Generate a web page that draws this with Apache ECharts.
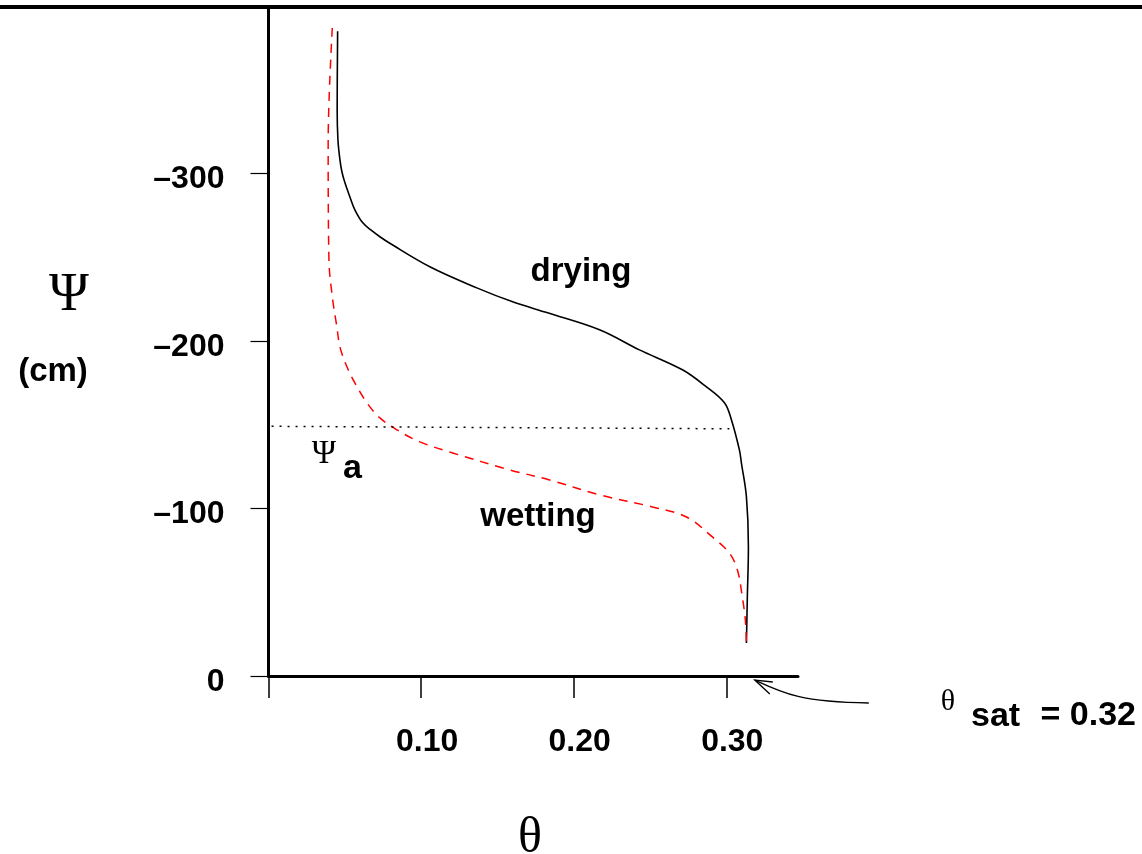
<!DOCTYPE html>
<html>
<head>
<meta charset="utf-8">
<script src="https://cdn.jsdelivr.net/npm/echarts@6/dist/echarts.min.js"></script>
<style>html,body{margin:0;padding:0;background:#fff;}#c{width:1142px;height:854px;}</style>
</head>
<body>
<div id="c"></div>
<script>
// ---- data (theta, psi in cm) ----
const dryingTheta = [0.0453,0.0450,0.0455,0.0468,0.0481,0.0501,0.0533,0.0566,0.0618,0.0677,0.0730,0.0795,0.1057,0.1365,0.1600,0.1829,0.2169,0.2431,0.2713,0.2870,0.2988,0.3034,0.3086,0.3099,0.3132,0.3145,0.3138,0.3132];
const dryingPsi   = [-384.7,-337.9,-320.0,-308.1,-300.9,-294.3,-286.0,-278.2,-270.4,-265.7,-262.1,-258.2,-244.2,-231.6,-223.3,-216.7,-206.6,-194.6,-182.7,-172.5,-163.0,-152.8,-134.9,-127.2,-106.9,-77.0,-47.2,-19.7];
const wettingTheta = [0.0418,0.0391,0.0396,0.0420,0.0448,0.0468,0.0514,0.0566,0.0645,0.0730,0.0841,0.0992,0.1207,0.1580,0.1842,0.2169,0.2516,0.2739,0.2909,0.3020,0.3073,0.3105,0.3125,0.3132];
const wettingPsi   = [-386.7,-318.2,-248.4,-225.0,-208.4,-196.4,-184.5,-174.9,-163.0,-154.0,-146.9,-139.7,-133.1,-123.0,-117.0,-108.1,-100.9,-94.9,-83.0,-73.4,-63.3,-47.2,-33.4,-19.7];
const psiATheta = [0.002, 0.302];
const psiAValue = [-149, -147.5];
const thetaSat = 0.32;
const xTicks = [0, 0.1, 0.2, 0.3];
const xLabels = [0.1, 0.2, 0.3];
const yTicks = [-300, -200, -100, 0];

const zip = (a, b) => a.map((v, i) => [v, b[i]]);
const SANS = '"Liberation Sans", Arial, sans-serif';
const SERIF = '"Liberation Serif", "Times New Roman", serif';
const BOLD = 'bold 33px ' + SANS;

const chart = echarts.init(document.getElementById('c'), null, {renderer: 'canvas'});
chart.setOption({
  animation: false,
  backgroundColor: '#fff',
  grid: {left: 268.5, right: 344, top: 9, bottom: 178},
  xAxis: {
    type: 'value', min: 0, max: 0.347,
    axisLine: {show: true, lineStyle: {color: '#000', width: 3}},
    axisTick: {show: true, customValues: xTicks, length: 22, lineStyle: {color: '#000', width: 1.5}},
    axisLabel: {customValues: xLabels, margin: 50, padding: [0, 0, 0, 12], color: '#000', fontSize: 32, fontWeight: 'bold',
      fontFamily: SANS, formatter: v => v.toFixed(2)},
    splitLine: {show: false}
  },
  yAxis: {
    type: 'value', inverse: true, min: -398, max: 0,
    axisLine: {show: true, lineStyle: {color: '#000', width: 3}},
    axisTick: {show: true, customValues: yTicks, length: 18, lineStyle: {color: '#000', width: 1.2}},
    axisLabel: {customValues: yTicks, margin: 44, color: '#000', fontSize: 32, fontWeight: 'bold',
      fontFamily: SANS,
      formatter: v => '{v|' + (v < 0 ? '\u2013' + (-v) : String(v)) + '}',
      rich: {v: {padding: [12, 0, 0, 0], fontSize: 32, fontWeight: 'bold', fontFamily: SANS, color: '#000'}}},
    splitLine: {show: false}
  },
  series: [
    {name: 'drying', type: 'line', data: zip(dryingTheta, dryingPsi), showSymbol: false, symbol: 'none',
      smooth: 0.35, lineStyle: {color: '#000', width: 1.6}},
    {name: 'wetting', type: 'line', data: zip(wettingTheta, wettingPsi), showSymbol: false, symbol: 'none',
      smooth: 0.35, lineStyle: {color: '#ff0000', width: 1.5, type: [9, 7]}},
    {name: 'psiA', type: 'line', data: zip(psiATheta, psiAValue), showSymbol: false, symbol: 'none',
      lineStyle: {color: '#000', width: 1.5, type: [2, 6]}}
  ]
});

const tip = chart.convertToPixel({gridIndex: 0}, [thetaSat, 0]);
const tx = tip[0] - 2, ty = tip[1] + 4;
chart.setOption({
  graphic: [
    {type: 'rect', shape: {x: 0, y: 5, width: 1142, height: 4}, style: {fill: '#000'}},
    {type: 'text', style: {x: 69, y: 296, text: '\u03A8', font: '54px ' + SERIF, fill: '#000', textAlign: 'center', textVerticalAlign: 'middle'}},
    {type: 'text', style: {x: 53, y: 372, text: '(cm)', font: BOLD, fill: '#000', textAlign: 'center', textVerticalAlign: 'middle'}},
    {type: 'text', style: {x: 581, y: 272, text: 'drying', font: BOLD, fill: '#000', textAlign: 'center', textVerticalAlign: 'middle'}},
    {type: 'text', style: {x: 538, y: 517, text: 'wetting', font: BOLD, fill: '#000', textAlign: 'center', textVerticalAlign: 'middle'}},
    {type: 'text', style: {x: 324, y: 454, text: '\u03A8', font: '33px ' + SERIF, fill: '#000', textAlign: 'center', textVerticalAlign: 'middle'}},
    {type: 'text', style: {x: 343, y: 469, text: 'a', font: 'bold 34px ' + SANS, fill: '#000', textAlign: 'left', textVerticalAlign: 'middle'}},
    {type: 'text', style: {x: 530, y: 839, text: '\u03B8', font: '50px ' + SERIF, fill: '#000', textAlign: 'center', textVerticalAlign: 'middle'}},
    {type: 'text', style: {x: 948, y: 702, text: '\u03B8', font: '30px ' + SERIF, fill: '#000', textAlign: 'center', textVerticalAlign: 'middle'}},
    {type: 'text', style: {x: 971, y: 717, text: 'sat', font: 'bold 34px ' + SANS, fill: '#000', textAlign: 'left', textVerticalAlign: 'middle'}},
    {type: 'text', style: {x: 1136, y: 716, text: '= 0.32', font: 'bold 34px ' + SANS, fill: '#000', textAlign: 'right', textVerticalAlign: 'middle'}},
    {type: 'bezierCurve', shape: {x1: tx + 114, y1: ty + 23, cpx1: tx + 45, cpy1: ty + 22, cpx2: tx + 28, cpy2: ty + 13, x2: tx, y2: ty},
      style: {stroke: '#000', lineWidth: 1.3, fill: null}},
    {type: 'polyline', shape: {points: [[tx + 18, ty + 2], [tx, ty], [tx + 15, ty + 14]]},
      style: {stroke: '#000', lineWidth: 1.3, fill: null}}
  ]
});
</script>
</body>
</html>
